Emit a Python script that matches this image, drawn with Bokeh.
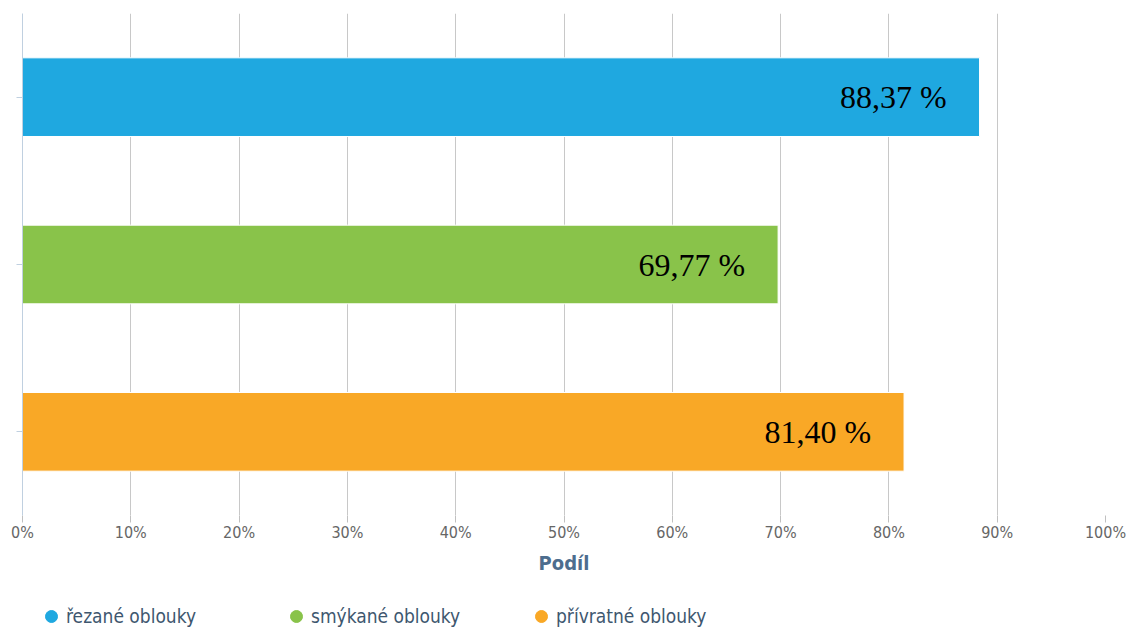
from bokeh.plotting import figure
from bokeh.layouts import column
from bokeh.models import ColumnDataSource, Legend, LegendItem, FactorRange, FixedTicker, CustomJSTickFormatter, LabelSet, Range1d
from bokeh.core.properties import value
from bokeh.embed import file_html
from bokeh.resources import INLINE

categories = ["řezané oblouky", "smýkané oblouky", "přívratné oblouky"]
values = [88.37, 69.77, 81.40]
labels = ["88,37 %", "69,77 %", "81,40 %"]
colors = ["#1fa8e0", "#89c34a", "#f9a826"]
x_ticks = [0, 10, 20, 30, 40, 50, 60, 70, 80, 90, 100]

UI_FONT = "DejaVu Sans Condensed"
W = 1130
LEGEND_H = 40

source = ColumnDataSource(dict(cat=categories, val=values, lab=labels, color=colors))

p = figure(width=W, height=629 - LEGEND_H, output_backend="svg", toolbar_location=None,
           y_range=FactorRange(*reversed(categories)), x_range=(0, 100),
           min_border_left=22, min_border_right=25, min_border_top=13,
           min_border_bottom=629 - LEGEND_H - 515)
p.outline_line_color = None
p.background_fill_color = "white"

p.hbar(y="cat", right="val", left=0, height=0.47, color="color", source=source,
       line_color="white", line_width=1)

p.add_layout(LabelSet(x="val", y="cat", text="lab", source=source, x_offset=-33,
                      text_align="right", text_baseline="middle",
                      text_font=value("Liberation Serif"), text_font_size="32px",
                      text_color="black"))

# x axis
p.xaxis.ticker = FixedTicker(ticks=x_ticks)
p.xaxis.formatter = CustomJSTickFormatter(code="return tick + '%';")
p.xaxis.axis_line_color = None
p.xaxis.major_tick_line_color = "#c0c0c0"
p.xaxis.major_tick_out = 7
p.xaxis.major_tick_in = 0
p.xaxis.minor_tick_line_color = None
p.xaxis.major_label_text_font = UI_FONT
p.xaxis.major_label_text_font_size = "16px"
p.xaxis.major_label_text_color = "#666666"
p.xaxis.major_label_standoff = 0
p.xaxis.axis_label = "Podíl"
p.xaxis.axis_label_text_font = UI_FONT
p.xaxis.axis_label_text_font_style = "bold"
p.xaxis.axis_label_text_font_size = "20px"
p.xaxis.axis_label_text_color = "#4d6d8e"
p.xaxis.axis_label_standoff = 6

# y axis (ticks only, labels hidden)
p.yaxis.major_label_text_alpha = 0
p.yaxis.major_label_text_font_size = "1px"
p.yaxis.major_label_standoff = 0
p.yaxis.axis_line_color = "#c0d0e0"
p.yaxis.major_tick_line_color = "#c0d0e0"
p.yaxis.major_tick_out = 6
p.yaxis.major_tick_in = 0
p.yaxis.minor_tick_line_color = None

p.xgrid.grid_line_color = "#c8c8c8"
p.ygrid.grid_line_color = None

# legend in its own strip below the chart
lg = figure(width=W, height=LEGEND_H, output_backend="svg", toolbar_location=None,
            x_axis_type=None, y_axis_type=None, x_range=Range1d(0, 1), y_range=Range1d(0, 1),
            min_border=0)
lg.outline_line_color = None
lg.xgrid.visible = False
lg.ygrid.visible = False
items = []
for i, c in enumerate(categories):
    r = lg.scatter(x=[float("nan")], y=[float("nan")], marker="circle", size=12, color=colors[i])
    items.append(LegendItem(label=c, renderers=[r]))

legend = Legend(items=items, orientation="horizontal", location=(14, -2),
                label_text_font=UI_FONT, label_text_font_size="19px",
                label_text_color="#3e576f", glyph_width=30, glyph_height=30,
                label_standoff=0, label_width=195, spacing=20, border_line_color=None,
                background_fill_alpha=0, padding=0, margin=0)
lg.add_layout(legend)

layout = column(p, lg, spacing=0)
open("out.html", "w").write(file_html(layout, INLINE))
